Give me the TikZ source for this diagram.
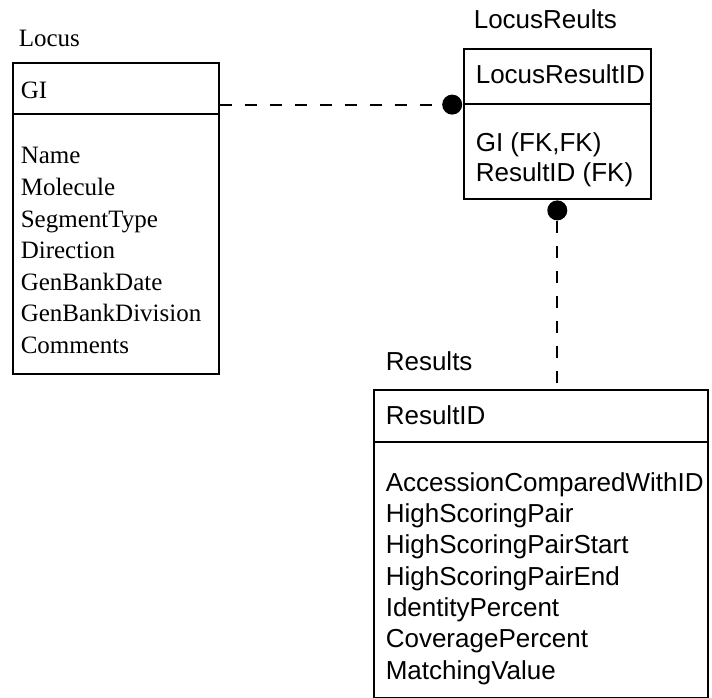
\documentclass[tikz,border=0pt]{standalone}
\usepackage{fontspec}
\setmainfont{Liberation Serif}
\newfontfamily\ersans{Liberation Sans}
\usetikzlibrary{positioning}
\tikzset{
    %set default line width for the boxes
    every picture/.style={line width=1.6pt},
    ent-box/.style={
        draw,
        anchor=north west,
        inner sep=0pt,
    },
    serif-text/.style={
        anchor=base west,
        inner sep=0pt,
        font=\fontsize{25}{30}\selectfont,
    },
    sans-text/.style={
        anchor=base west,
        inner sep=0pt,
        font=\ersans\fontsize{26}{31}\selectfont,
    },
    rel-line/.style={
        line width=2pt,
        dash pattern=on 12pt off 13pt,
    },
    er-dot/.style={
        circle,
        fill,
        inner sep=0pt,
        minimum size=20pt,
    }
}
\begin{document}
\begin{tikzpicture}[x=1pt,y=-1pt]
\useasboundingbox (0,0) rectangle (712,698);

%Entity: Locus
\node[ent-box, minimum width=206pt, minimum height=51pt] (locus-key) at (12,62) {};
\node[ent-box, minimum width=206pt, minimum height=260pt] (locus-body) at (12,113) {};
%Entity: LocusReults
\node[ent-box, minimum width=187pt, minimum height=55pt] (lr-key) at (463,48) {};
\node[ent-box, minimum width=187pt, minimum height=95pt] (lr-body) at (463,103) {};
%Entity: Results
\node[ent-box, minimum width=334pt, minimum height=52pt] (res-key) at (373,389) {};
\node[ent-box, minimum width=334pt, minimum height=256pt] (res-body) at (373,441) {};

%Relationship ends
\node[er-dot, anchor=east] (lr-dot-left) at (lr-key.south west) {};
\node[er-dot, anchor=north] (lr-dot-down) at (lr-body.south) {};
\draw[rel-line] (locus-key.east |- lr-key.south) -- (lr-dot-left);
\draw[rel-line] (lr-dot-down) -- (lr-dot-down |- res-key.north);

% Text Node
\node[serif-text] (locus-title) at (18,47) {Locus};
% Text Node
\node[serif-text] (locus-gi) at (20,99) {GI};
% Text Node
\node[serif-text] (locus-name) at (20,164) {Name};
% Text Node
\node[serif-text] (locus-molecule) at (20,195.5) {Molecule};
% Text Node
\node[serif-text] (locus-segtype) at (20,227) {SegmentType};
% Text Node
\node[serif-text] (locus-direction) at (20,258.5) {Direction};
% Text Node
\node[serif-text] (locus-gbdate) at (20,290) {GenBankDate};
% Text Node
\node[serif-text] (locus-gbdiv) at (20,321.5) {GenBankDivision};
% Text Node
\node[serif-text] (locus-comments) at (20,353) {Comments};

% Text Node
\node[sans-text] (lr-title) at (473,29) {LocusReults};
% Text Node
\node[sans-text] (lr-id) at (475,84) {LocusResultID};
% Text Node
\node[sans-text] (lr-gi) at (475,151) {GI (FK,FK)};
% Text Node
\node[sans-text] (lr-resid) at (475,181) {ResultID (FK)};

% Text Node
\node[sans-text] (res-title) at (385,370) {Results};
% Text Node
\node[sans-text] (res-id) at (385,424) {ResultID};
% Text Node
\node[sans-text] (res-acc) at (385,491) {AccessionComparedWithID};
% Text Node
\node[sans-text] (res-hsp) at (385,522.3) {HighScoringPair};
% Text Node
\node[sans-text] (res-hspstart) at (385,553.6) {HighScoringPairStart};
% Text Node
\node[sans-text] (res-hspend) at (385,585) {HighScoringPairEnd};
% Text Node
\node[sans-text] (res-ident) at (385,616.3) {IdentityPercent};
% Text Node
\node[sans-text] (res-cover) at (385,647.6) {CoveragePercent};
% Text Node
\node[sans-text] (res-match) at (385,679) {MatchingValue};
\end{tikzpicture}
\end{document}
